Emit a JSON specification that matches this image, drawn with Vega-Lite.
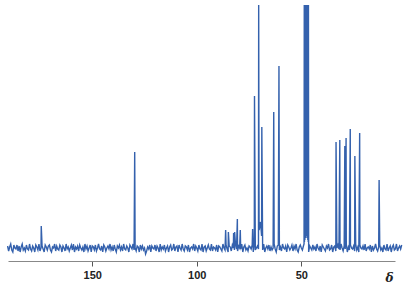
{
"$schema": "https://vega.github.io/schema/vega-lite/v6.json",
"width": 387, "height": 256,
"padding": {"left": 8, "top": 5, "right": 15, "bottom": 30},
"autosize": {"type": "none"},
"config": {"view": {"stroke": null}},
"data": {"values": [
{"d":190.5,"i":2},{"d":190,"i":-3},{"d":189.5,"i":1},{"d":189,"i":4},{"d":188.5,"i":-2},{"d":188,"i":-4},{"d":187.5,"i":3},{"d":187,"i":0},{"d":186.5,"i":-1},{"d":186,"i":3},{"d":185.5,"i":-3},{"d":185,"i":2},{"d":184.5,"i":-4},{"d":184,"i":1},{"d":183.5,"i":4},{"d":183,"i":-2},{"d":182.5,"i":0},{"d":182,"i":-3},{"d":181.5,"i":3},{"d":181,"i":-1},
{"d":180.5,"i":-2},{"d":180,"i":4},{"d":179.5,"i":-1},{"d":179,"i":-3},{"d":178.5,"i":2},{"d":178,"i":0},{"d":177.5,"i":-4},{"d":177,"i":3},{"d":176.5,"i":1},{"d":176,"i":-2},{"d":175.5,"i":4},{"d":175,"i":-3},{"d":174.5,"i":0},{"d":174.4,"i":22},{"d":174,"i":2},{"d":173.5,"i":-1},{"d":173,"i":-4},{"d":172.5,"i":3},{"d":172,"i":1},{"d":171.5,"i":-2},{"d":171,"i":2},
{"d":170.5,"i":3},{"d":170,"i":-2},{"d":169.5,"i":-4},{"d":169,"i":1},{"d":168.5,"i":0},{"d":168,"i":4},{"d":167.5,"i":-3},{"d":167,"i":2},{"d":166.5,"i":-1},{"d":166,"i":-2},{"d":165.5,"i":3},{"d":165,"i":1},{"d":164.5,"i":-4},{"d":164,"i":2},{"d":163.5,"i":0},{"d":163,"i":-3},{"d":162.5,"i":4},{"d":162,"i":-1},{"d":161.5,"i":1},{"d":161,"i":-3},
{"d":160.5,"i":0},{"d":160,"i":3},{"d":159.5,"i":-2},{"d":159,"i":4},{"d":158.5,"i":-4},{"d":158,"i":1},{"d":157.5,"i":-1},{"d":157,"i":2},{"d":156.5,"i":-3},{"d":156,"i":3},{"d":155.5,"i":0},{"d":155,"i":-2},{"d":154.5,"i":1},{"d":154,"i":-4},{"d":153.5,"i":4},{"d":153,"i":-1},{"d":152.5,"i":2},{"d":152,"i":-3},{"d":151.5,"i":0},{"d":151,"i":3},
{"d":150.5,"i":-4},{"d":150,"i":2},{"d":149.5,"i":1},{"d":149,"i":-2},{"d":148.5,"i":3},{"d":148,"i":-3},{"d":147.5,"i":0},{"d":147,"i":4},{"d":146.5,"i":-1},{"d":146,"i":-2},{"d":145.5,"i":2},{"d":145,"i":-4},{"d":144.5,"i":3},{"d":144,"i":1},{"d":143.5,"i":-3},{"d":143,"i":0},{"d":142.5,"i":2},{"d":142,"i":-1},{"d":141.5,"i":4},{"d":141,"i":-2},
{"d":140.5,"i":1},{"d":140,"i":-3},{"d":139.5,"i":3},{"d":139,"i":-1},{"d":138.5,"i":-4},{"d":138,"i":2},{"d":137.5,"i":0},{"d":137,"i":3},{"d":136.5,"i":-2},{"d":136,"i":1},{"d":135.5,"i":-3},{"d":135,"i":4},{"d":134.5,"i":-1},{"d":134,"i":-2},{"d":133.5,"i":2},{"d":133,"i":0},{"d":132.5,"i":-4},{"d":132,"i":3},{"d":131.5,"i":1},{"d":131,"i":-1},
{"d":130.5,"i":4},{"d":130,"i":-2},{"d":129.7,"i":96},{"d":129.5,"i":0},{"d":129,"i":-3},{"d":128.5,"i":2},{"d":128,"i":1},{"d":127.5,"i":-4},{"d":127,"i":3},{"d":126.5,"i":-1},{"d":126,"i":2},{"d":125.5,"i":-2},{"d":125,"i":0},{"d":124.5,"i":-6},{"d":124,"i":-3},{"d":123.5,"i":1},{"d":123,"i":-1},{"d":122.5,"i":3},{"d":122,"i":-4},{"d":121.5,"i":2},{"d":121,"i":0},
{"d":120.5,"i":-1},{"d":120,"i":3},{"d":119.5,"i":-3},{"d":119,"i":2},{"d":118.5,"i":0},{"d":118,"i":-4},{"d":117.5,"i":4},{"d":117,"i":-2},{"d":116.5,"i":1},{"d":116,"i":-1},{"d":115.5,"i":3},{"d":115,"i":-3},{"d":114.5,"i":0},{"d":114,"i":2},{"d":113.5,"i":-4},{"d":113,"i":1},{"d":112.5,"i":3},{"d":112,"i":-2},{"d":111.5,"i":-1},{"d":111,"i":4},
{"d":110.5,"i":-3},{"d":110,"i":1},{"d":109.5,"i":2},{"d":109,"i":-4},{"d":108.5,"i":3},{"d":108,"i":0},{"d":107.5,"i":-2},{"d":107,"i":4},{"d":106.5,"i":-1},{"d":106,"i":-3},{"d":105.5,"i":2},{"d":105,"i":1},{"d":104.5,"i":-2},{"d":104,"i":3},{"d":103.5,"i":-4},{"d":103,"i":0},{"d":102.5,"i":1},{"d":102,"i":-1},{"d":101.5,"i":4},{"d":101,"i":-3},
{"d":100.5,"i":2},{"d":100,"i":0},{"d":99.5,"i":-3},{"d":99,"i":3},{"d":98.5,"i":-1},{"d":98,"i":-2},{"d":97.5,"i":4},{"d":97,"i":-4},{"d":96.5,"i":1},{"d":96,"i":2},{"d":95.5,"i":-3},{"d":95,"i":0},{"d":94.5,"i":3},{"d":94,"i":-1},{"d":93.5,"i":-2},{"d":93,"i":4},{"d":92.5,"i":-3},{"d":92,"i":1},{"d":91.5,"i":0},{"d":91,"i":-2},
{"d":90.5,"i":3},{"d":90,"i":-4},{"d":89.5,"i":2},{"d":89,"i":1},{"d":88.5,"i":-1},{"d":88,"i":-3},{"d":87.5,"i":4},{"d":87,"i":0},{"d":86.5,"i":-2},{"d":86.2,"i":18},{"d":86,"i":3},{"d":85.5,"i":-1},{"d":85,"i":-4},{"d":84.9,"i":16},{"d":84.5,"i":2},{"d":84,"i":1},{"d":83.5,"i":-3},{"d":83,"i":3},{"d":82.5,"i":0},{"d":82.4,"i":15},{"d":82,"i":-2},{"d":81.9,"i":16},{"d":81.5,"i":4},{"d":81,"i":-1},
{"d":80.6,"i":29},{"d":80.5,"i":-3},{"d":80,"i":2},{"d":79.5,"i":0},{"d":79.2,"i":18},{"d":79,"i":-1},{"d":78.5,"i":4},{"d":78,"i":-4},{"d":77.5,"i":1},{"d":77,"i":3},{"d":76.5,"i":-2},{"d":76,"i":0},{"d":75.5,"i":-3},{"d":75,"i":2},{"d":74.5,"i":1},{"d":74,"i":-1},{"d":73.5,"i":3},{"d":73.3,"i":19},{"d":73,"i":-4},{"d":72.5,"i":4},{"d":72.4,"i":152},{"d":72,"i":-2},{"d":71.5,"i":0},{"d":71,"i":2},
{"d":70.5,"i":-1},{"d":70.4,"i":243},{"d":70.2,"i":18},{"d":70,"i":20},{"d":69.7,"i":26},{"d":69.5,"i":25},{"d":69.3,"i":20},{"d":69,"i":12},{"d":68.9,"i":121},{"d":68.5,"i":-2},{"d":68,"i":4},{"d":67.5,"i":-4},{"d":67,"i":0},{"d":66.5,"i":2},{"d":66,"i":-1},{"d":65.5,"i":3},{"d":65,"i":-3},{"d":64.5,"i":1},{"d":64,"i":-2},{"d":63.5,"i":0},{"d":63.2,"i":136},{"d":63,"i":4},{"d":62.5,"i":-1},{"d":62,"i":-4},{"d":61.5,"i":2},{"d":61,"i":3},
{"d":60.7,"i":182},{"d":60.5,"i":-2},{"d":60,"i":1},{"d":59.5,"i":-3},{"d":59,"i":4},{"d":58.5,"i":0},{"d":58,"i":-1},{"d":57.5,"i":2},{"d":57,"i":-4},{"d":56.5,"i":3},{"d":56,"i":1},{"d":55.5,"i":-2},{"d":55,"i":0},{"d":54.5,"i":3},{"d":54,"i":-3},{"d":53.5,"i":2},{"d":53,"i":-1},{"d":52.5,"i":4},{"d":52,"i":-2},{"d":51.5,"i":-4},{"d":51,"i":1},
{"d":50.5,"i":3},{"d":50,"i":0},{"d":49.5,"i":-2},{"d":49,"i":2},{"d":48.7,"i":4},{"d":48.6,"i":243},{"d":48.5,"i":6},{"d":48.4,"i":243},{"d":48.3,"i":8},{"d":48.2,"i":243},{"d":48.1,"i":10},{"d":48.0,"i":243},{"d":47.9,"i":12},{"d":47.8,"i":243},{"d":47.7,"i":12},{"d":47.6,"i":243},{"d":47.5,"i":12},{"d":47.4,"i":243},{"d":47.3,"i":10},{"d":47.2,"i":243},{"d":47.1,"i":10},{"d":47.0,"i":243},{"d":46.9,"i":8},{"d":46.8,"i":243},{"d":46.7,"i":6},{"d":46.6,"i":243},{"d":46.5,"i":-4},{"d":46,"i":2},{"d":45.5,"i":0},{"d":45,"i":-2},{"d":44.5,"i":3},{"d":44,"i":-1},{"d":43.5,"i":1},{"d":43,"i":-3},{"d":42.5,"i":4},{"d":42,"i":0},{"d":41.5,"i":-2},{"d":41,"i":2},
{"d":40.5,"i":-4},{"d":40,"i":3},{"d":39.5,"i":1},{"d":39,"i":-1},{"d":38.5,"i":-3},{"d":38,"i":2},{"d":37.5,"i":0},{"d":37,"i":4},{"d":36.5,"i":-2},{"d":36,"i":-1},{"d":35.5,"i":3},{"d":35,"i":-4},{"d":34.5,"i":1},{"d":34,"i":2},{"d":33.5,"i":-3},{"d":33.4,"i":106},{"d":33,"i":0},{"d":32.5,"i":3},{"d":32,"i":-1},{"d":31.6,"i":108},{"d":31.5,"i":-2},{"d":31,"i":4},
{"d":30.5,"i":0},{"d":30,"i":-3},{"d":29.5,"i":2},{"d":29.2,"i":102},{"d":29,"i":-1},{"d":28.6,"i":110},{"d":28.5,"i":4},{"d":28,"i":-4},{"d":27.5,"i":1},{"d":27,"i":-2},{"d":26.6,"i":119},{"d":26.5,"i":3},{"d":26,"i":0},{"d":25.5,"i":-1},{"d":25,"i":2},{"d":24.5,"i":-3},{"d":24.4,"i":92},{"d":24,"i":4},{"d":23.5,"i":-2},{"d":23,"i":1},{"d":22.5,"i":-4},{"d":22.1,"i":115},{"d":22,"i":3},{"d":21.5,"i":0},{"d":21,"i":-1},
{"d":20.5,"i":2},{"d":20,"i":-2},{"d":19.5,"i":4},{"d":19,"i":-3},{"d":18.5,"i":0},{"d":18,"i":1},{"d":17.5,"i":-1},{"d":17,"i":3},{"d":16.5,"i":-4},{"d":16,"i":2},{"d":15.5,"i":-2},{"d":15,"i":0},{"d":14.5,"i":4},{"d":14,"i":-1},{"d":13.5,"i":-3},{"d":13,"i":1},{"d":12.8,"i":68},{"d":12.5,"i":3},{"d":12,"i":-2},{"d":11.5,"i":0},{"d":11,"i":-4},
{"d":10.5,"i":3},{"d":10,"i":-1},{"d":9.5,"i":-2},{"d":9,"i":4},{"d":8.5,"i":-3},{"d":8,"i":0},{"d":7.5,"i":2},{"d":7,"i":-4},{"d":6.5,"i":1},{"d":6,"i":3},{"d":5.5,"i":-2},{"d":5,"i":-1},{"d":4.5,"i":4},{"d":4,"i":-3},{"d":3.5,"i":0},{"d":3,"i":2},{"d":2.5,"i":-1},{"d":2,"i":3}
]},
"mark": {"type": "line", "color": "#3461ad", "strokeWidth": 1.4, "clip": false},
"encoding": {
  "x": {"field": "d", "type": "quantitative",
    "scale": {"domain": [190.3, 5.2], "nice": false, "zero": false},
    "axis": {"values": [150, 100, 50], "title": "δ", "titleX": 381, "titleY": 16, "titleAlign": "center", "titleBaseline": "middle", "titleFontStyle": "italic", "titleFontWeight": "bold", "titleFontSize": 12, "titleFont": "DejaVu Serif", "titleColor": "#222", "labelFont": "Liberation Sans", "labelFontWeight": "bold", "labelFontSize": 11, "labelColor": "#222", "tickColor": "#555", "domainColor": "#888", "tickSize": 5, "labelPadding": 3, "grid": false}},
  "y": {"field": "i", "type": "quantitative", "scale": {"domain": [-13, 243], "nice": false, "zero": false}, "axis": null}
}
}
